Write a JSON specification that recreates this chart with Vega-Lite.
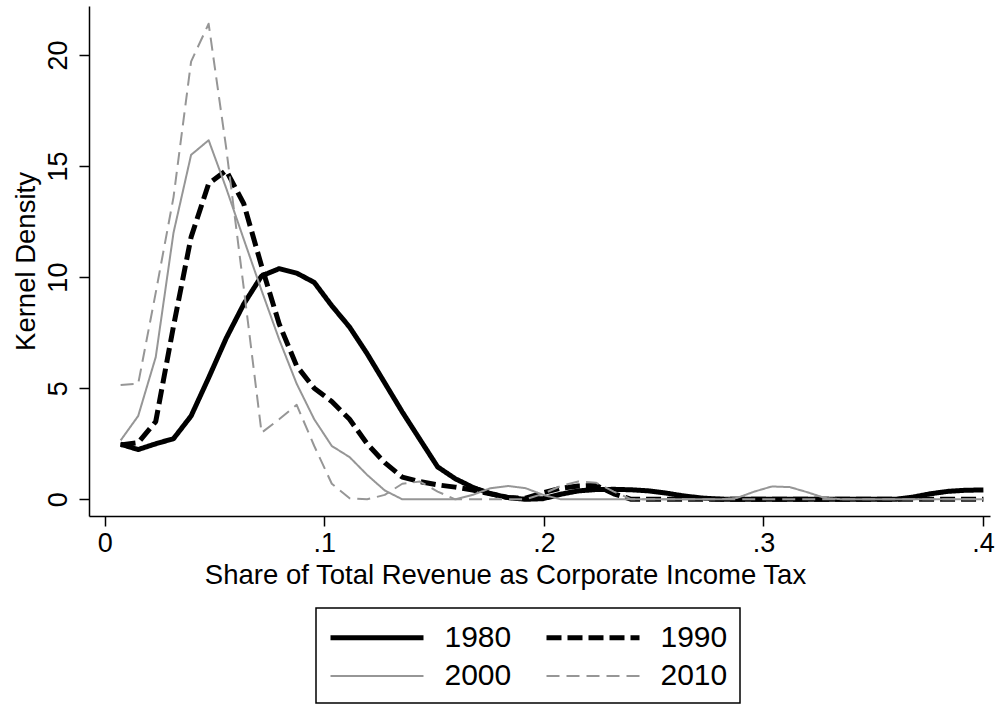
{
  "$schema": "https://vega.github.io/schema/vega-lite/v6.json",
  "width": 901,
  "height": 510,
  "autosize": {"type": "none"},
  "padding": {"left": 89, "top": 6, "right": 18, "bottom": 190},
  "background": "white",
  "config": {
    "view": {"stroke": null},
    "font": "Liberation Sans",
    "axis": {"labelFont": "Liberation Sans", "titleFont": "Liberation Sans", "labelColor": "black", "titleColor": "black", "titleFontWeight": "normal", "grid": false, "domainColor": "black", "domainWidth": 1.5, "tickColor": "black", "tickWidth": 1.5, "tickSize": 10, "labelFontSize": 27, "titleFontSize": 27.5, "labelFlush": false, "labelOverlap": false},
    "legend": {"labelFont": "Liberation Sans", "labelColor": "black"}
  },
  "data": {"values": [
    {"x": 0.0072, "1980": 2.48, "1990": 2.45, "2000": 2.65, "2010": 5.15},
    {"x": 0.0152, "1980": 2.24, "1990": 2.55, "2000": 3.75, "2010": 5.2},
    {"x": 0.0232, "1980": 2.5, "1990": 3.5, "2000": 6.4, "2010": 9.3},
    {"x": 0.0313, "1980": 2.73, "1990": 7.8, "2000": 12.0, "2010": 13.6},
    {"x": 0.0393, "1980": 3.75, "1990": 11.8, "2000": 15.5, "2010": 19.7},
    {"x": 0.0473, "1980": 5.47, "1990": 14.2, "2000": 16.16, "2010": 21.4},
    {"x": 0.0553, "1980": 7.25, "1990": 14.8, "2000": 14.0, "2010": 15.8},
    {"x": 0.0633, "1980": 8.79, "1990": 13.3, "2000": 11.7, "2010": 9.5},
    {"x": 0.0714, "1980": 10.05, "1990": 10.5, "2000": 9.4, "2010": 3.0},
    {"x": 0.0794, "1980": 10.38, "1990": 7.9, "2000": 7.2, "2010": 3.6},
    {"x": 0.0874, "1980": 10.18, "1990": 6.0, "2000": 5.2, "2010": 4.25},
    {"x": 0.0954, "1980": 9.76, "1990": 5.0, "2000": 3.6, "2010": 2.4},
    {"x": 0.1034, "1980": 8.71, "1990": 4.4, "2000": 2.4, "2010": 0.7},
    {"x": 0.1115, "1980": 7.75, "1990": 3.6, "2000": 1.9, "2010": 0.05},
    {"x": 0.1195, "1980": 6.55, "1990": 2.5, "2000": 1.1, "2010": 0.0},
    {"x": 0.1275, "1980": 5.24, "1990": 1.65, "2000": 0.4, "2010": 0.2},
    {"x": 0.1355, "1980": 3.93, "1990": 1.0, "2000": 0.0, "2010": 0.7},
    {"x": 0.1435, "1980": 2.7, "1990": 0.8, "2000": 0.0, "2010": 0.8},
    {"x": 0.1516, "1980": 1.46, "1990": 0.65, "2000": 0.0, "2010": 0.35},
    {"x": 0.1596, "1980": 0.93, "1990": 0.55, "2000": 0.0, "2010": 0.0},
    {"x": 0.1676, "1980": 0.54, "1990": 0.42, "2000": 0.2, "2010": 0.0},
    {"x": 0.1756, "1980": 0.26, "1990": 0.25, "2000": 0.5, "2010": 0.0},
    {"x": 0.1836, "1980": 0.08, "1990": 0.08, "2000": 0.6, "2010": 0.0},
    {"x": 0.1917, "1980": 0.0, "1990": 0.05, "2000": 0.5, "2010": 0.0},
    {"x": 0.1997, "1980": 0.03, "1990": 0.3, "2000": 0.2, "2010": 0.25},
    {"x": 0.2077, "1980": 0.23, "1990": 0.5, "2000": 0.0, "2010": 0.6},
    {"x": 0.2157, "1980": 0.38, "1990": 0.6, "2000": 0.0, "2010": 0.8},
    {"x": 0.2237, "1980": 0.44, "1990": 0.63, "2000": 0.0, "2010": 0.75},
    {"x": 0.2318, "1980": 0.45, "1990": 0.25, "2000": 0.0, "2010": 0.35},
    {"x": 0.2398, "1980": 0.43, "1990": 0.0, "2000": 0.0, "2010": 0.0},
    {"x": 0.2478, "1980": 0.38, "1990": 0.0, "2000": 0.0, "2010": 0.0},
    {"x": 0.2558, "1980": 0.28, "1990": 0.0, "2000": 0.0, "2010": 0.0},
    {"x": 0.2638, "1980": 0.15, "1990": 0.0, "2000": 0.0, "2010": 0.0},
    {"x": 0.2719, "1980": 0.06, "1990": 0.0, "2000": 0.0, "2010": 0.0},
    {"x": 0.2799, "1980": 0.01, "1990": 0.0, "2000": 0.0, "2010": 0.0},
    {"x": 0.2879, "1980": 0.0, "1990": 0.0, "2000": 0.06, "2010": 0.0},
    {"x": 0.2959, "1980": 0.0, "1990": 0.0, "2000": 0.35, "2010": 0.0},
    {"x": 0.3039, "1980": 0.0, "1990": 0.0, "2000": 0.58, "2010": 0.0},
    {"x": 0.3120, "1980": 0.0, "1990": 0.0, "2000": 0.55, "2010": 0.0},
    {"x": 0.3200, "1980": 0.0, "1990": 0.0, "2000": 0.32, "2010": 0.0},
    {"x": 0.3280, "1980": 0.0, "1990": 0.0, "2000": 0.06, "2010": 0.0},
    {"x": 0.3360, "1980": 0.0, "1990": 0.0, "2000": 0.0, "2010": 0.0},
    {"x": 0.3440, "1980": 0.0, "1990": 0.0, "2000": 0.0, "2010": 0.0},
    {"x": 0.3521, "1980": 0.0, "1990": 0.0, "2000": 0.0, "2010": 0.0},
    {"x": 0.3601, "1980": 0.0, "1990": 0.0, "2000": 0.0, "2010": 0.0},
    {"x": 0.3681, "1980": 0.1, "1990": 0.0, "2000": 0.0, "2010": 0.0},
    {"x": 0.3761, "1980": 0.25, "1990": 0.0, "2000": 0.0, "2010": 0.0},
    {"x": 0.3841, "1980": 0.36, "1990": 0.0, "2000": 0.0, "2010": 0.0},
    {"x": 0.3922, "1980": 0.41, "1990": 0.0, "2000": 0.0, "2010": 0.0},
    {"x": 0.4002, "1980": 0.42, "1990": 0.0, "2000": 0.0, "2010": 0.0}
  ]},
  "transform": [{"fold": ["1980", "1990", "2000", "2010"], "as": ["year", "d"]}],
  "mark": {"type": "line", "strokeCap": "butt", "strokeJoin": "round"},
  "encoding": {
    "x": {"field": "x", "type": "quantitative",
      "scale": {"domain": [-0.0072, 0.4032], "nice": false, "zero": false},
      "axis": {"values": [0, 0.1, 0.2, 0.3, 0.4],
        "labelExpr": "datum.value == 0 ? '0' : replace(format(datum.value, '.1f'), '0.', '.')",
        "labelPadding": 4,
        "title": "Share of Total Revenue as Corporate Income Tax",
        "titleX": 416, "titleY": 67, "titleBaseline": "alphabetic", "titleAlign": "center", "titleAngle": 0}},
    "y": {"field": "d", "type": "quantitative",
      "scale": {"domain": [-0.75, 22.2], "nice": false, "zero": false},
      "axis": {"values": [0, 5, 10, 15, 20], "labelAngle": -90, "labelAlign": "center", "labelBaseline": "bottom", "labelPadding": 7,
        "title": "Kernel Density", "titleX": -55, "titleY": 255, "titleAngle": -90, "titleBaseline": "alphabetic", "titleAlign": "center"}},
    "color": {"field": "year", "type": "nominal",
      "scale": {"domain": ["1980", "1990", "2000", "2010"], "range": ["#000000", "#000000", "#969696", "#969696"]},
      "legend": {"title": null, "orient": "none", "legendX": 227, "legendY": 602, "direction": "horizontal", "columns": 2, "strokeColor": "black", "padding": 12, "symbolType": "M-3.1,0H3.1", "symbolSize": 900, "symbolOffset": 31.5, "labelFontSize": 30, "labelOffset": 50, "columnPadding": 24, "rowPadding": 7,
        "encode": {"legend": {"update": {"strokeWidth": {"value": 1.5}}}}}},
    "strokeDash": {"field": "year", "type": "nominal",
      "scale": {"domain": ["1980", "1990", "2000", "2010"], "range": [[1, 0], [15, 6], [1, 0], [13, 7]]},
      "legend": {"title": null, "orient": "none", "legendX": 227, "legendY": 602, "direction": "horizontal", "columns": 2, "strokeColor": "black", "padding": 12, "symbolType": "M-3.1,0H3.1", "symbolSize": 900, "symbolOffset": 31.5, "labelFontSize": 30, "labelOffset": 50, "columnPadding": 24, "rowPadding": 7,
        "encode": {"legend": {"update": {"strokeWidth": {"value": 1.5}}}}}},
    "strokeWidth": {"field": "year", "type": "nominal",
      "scale": {"type": "ordinal", "domain": ["1980", "1990", "2000", "2010"], "range": [5, 5, 2, 2]},
      "legend": {"title": null, "orient": "none", "legendX": 227, "legendY": 602, "direction": "horizontal", "columns": 2, "strokeColor": "black", "padding": 12, "symbolType": "M-3.1,0H3.1", "symbolSize": 900, "symbolOffset": 31.5, "labelFontSize": 30, "labelOffset": 50, "columnPadding": 24, "rowPadding": 7,
        "encode": {"legend": {"update": {"strokeWidth": {"value": 1.5}}}}}}
  }
}
